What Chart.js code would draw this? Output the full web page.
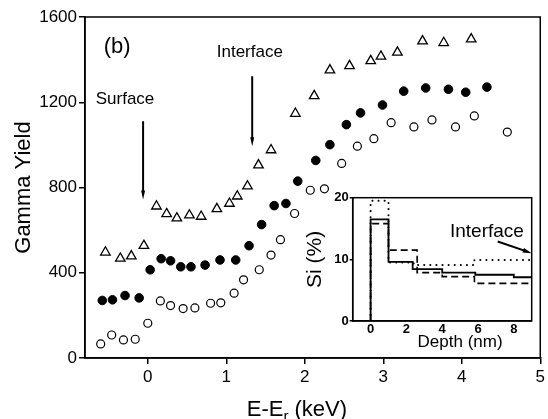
<!DOCTYPE html>
<html>
<head>
<meta charset="utf-8">
<script src="https://cdn.jsdelivr.net/npm/chart.js@4.4.1/dist/chart.umd.min.js"></script>
<style>
  body { margin: 0; background: #fff; }
  #wrap { position: relative; width: 548px; height: 419px; }
  #chartMain { position: absolute; left: 0; top: 0; }
  #chartInset { position: absolute; left: 300px; top: 180px; }
</style>
</head>
<body>
<div id="wrap">
  <canvas id="chartMain" width="548" height="419"></canvas>
  <canvas id="chartInset" width="246" height="180"></canvas>
</div>
<script>
const FONT = "'Liberation Sans', Arial, Helvetica, sans-serif";
Chart.defaults.font.family = FONT;
Chart.defaults.color = "#000";

// main panel: gamma yield vs E-Er (keV)
const openE = [-0.60, -0.46, -0.31, -0.16, 0.00, 0.16, 0.29, 0.45, 0.60, 0.80, 0.93, 1.10, 1.22, 1.42,
  1.57, 1.69, 1.87, 2.07, 2.25, 2.47, 2.67, 2.88, 3.10, 3.39, 3.62, 3.92, 4.16, 4.58];
const openY = [66, 108, 85, 88, 163, 268, 246, 232, 235, 257, 259, 304, 367, 414,
  483, 555, 678, 787, 794, 913, 994, 1029, 1104, 1084, 1117, 1084, 1136, 1060];

const filledE = [-0.58, -0.45, -0.29, -0.11, 0.03, 0.17, 0.29, 0.42, 0.55, 0.73, 0.92, 1.12, 1.29, 1.45,
  1.61, 1.76, 1.91, 2.14, 2.32, 2.53, 2.71, 2.99, 3.26, 3.54, 3.83, 4.05, 4.32];
const filledY = [270, 273, 293, 282, 414, 466, 456, 428, 428, 436, 460, 460, 527, 626,
  715, 725, 830, 927, 1001, 1095, 1150, 1187, 1252, 1267, 1261, 1247, 1271];

const triE = [-0.54, -0.35, -0.21, -0.05, 0.11, 0.24, 0.37, 0.53, 0.68, 0.88, 1.04, 1.14, 1.27,
  1.41, 1.57, 1.88, 2.12, 2.32, 2.57, 2.84, 2.97, 3.18, 3.50, 3.77, 4.12];
const triY = [496, 467, 478, 527, 712, 676, 656, 670, 664, 700, 725, 759, 806,
  905, 976, 1147, 1230, 1351, 1371, 1394, 1415, 1434, 1487, 1479, 1496];

const xTicks = [0, 1, 2, 3, 4, 5];
const yTicks = [0, 400, 800, 1200, 1600];

// inset: Si depth profiles, stored as step edges
const depthTicks = [0, 2, 4, 6, 8];
const siTicks = [0, 10, 20];
const solidDepth = [0, 0, 1, 2.35, 4, 5.85, 8, 9];
const solidSi = [0, 16.5, 9.6, 8.4, 7.85, 7.5, 7.1, 7.1];
const dashDepth = [0, 0, 1, 2.6, 4, 5.8, 9];
const dashSi = [0, 15.8, 11.5, 7.85, 7.2, 6.1, 6.1];
const dotDepth = [0, 0, 1, 2.4, 5.8, 9];
const dotSi = [0, 19.5, 9.5, 9.1, 9.9, 9.9];

function pts(xs, ys) {
  return xs.map((x, i) => ({ x: x, y: ys[i] }));
}

function arrow(ctx, x1, y1, x2, y2, len, half) {
  const a = Math.atan2(y2 - y1, x2 - x1);
  const c = Math.cos(a), s = Math.sin(a);
  ctx.beginPath();
  ctx.moveTo(x1, y1);
  ctx.lineTo(x2 - c * len * 0.6, y2 - s * len * 0.6);
  ctx.stroke();
  ctx.beginPath();
  ctx.moveTo(x2, y2);
  ctx.lineTo(x2 - len * c + half * s, y2 - len * s - half * c);
  ctx.lineTo(x2 - len * c - half * s, y2 - len * s + half * c);
  ctx.closePath();
  ctx.fill();
}

const mainDecor = {
  id: "mainDecor",
  afterDraw(chart) {
    const { ctx, chartArea: a, scales: { x, y } } = chart;
    ctx.save();
    ctx.strokeStyle = "#000";
    ctx.fillStyle = "#000";
    ctx.lineWidth = 1.5;
    ctx.strokeRect(a.left, a.top, a.right - a.left, a.bottom - a.top);

    ctx.textAlign = "center";
    ctx.textBaseline = "middle";
    ctx.font = "22px " + FONT;
    ctx.fillText("(b)", x.getPixelForValue(-0.39), y.getPixelForValue(1459));
    ctx.font = "17px " + FONT;
    ctx.fillText("Interface", x.getPixelForValue(1.3), y.getPixelForValue(1435));
    ctx.fillText("Surface", x.getPixelForValue(-0.29), y.getPixelForValue(1214));

    ctx.lineWidth = 2;
    arrow(ctx, x.getPixelForValue(1.33), y.getPixelForValue(1322),
      x.getPixelForValue(1.33), y.getPixelForValue(993), 9, 2);
    arrow(ctx, x.getPixelForValue(-0.06), y.getPixelForValue(1111),
      x.getPixelForValue(-0.06), y.getPixelForValue(744), 9, 2);

    // x title with subscript r
    ctx.textAlign = "left";
    ctx.textBaseline = "alphabetic";
    const base = 416;
    ctx.font = "22px " + FONT;
    const w1 = ctx.measureText("E-E").width;
    const w3 = ctx.measureText(" (keV)").width;
    ctx.font = "15px " + FONT;
    const w2 = ctx.measureText("r").width;
    let tx = x.getPixelForValue(1.9) - (w1 + w2 + w3) / 2;
    ctx.font = "22px " + FONT;
    ctx.fillText("E-E", tx, base);
    tx += w1;
    ctx.font = "15px " + FONT;
    ctx.fillText("r", tx, base + 5);
    tx += w2;
    ctx.font = "22px " + FONT;
    ctx.fillText(" (keV)", tx, base);
    ctx.restore();
  }
};

const chartMain = new Chart(document.getElementById("chartMain"), {
  type: "scatter",
  data: {
    datasets: [
      {
        label: "open",
        data: pts(openE, openY),
        pointStyle: "circle",
        pointRadius: 4,
        backgroundColor: "#fff",
        borderColor: "#000",
        borderWidth: 1.2
      },
      {
        label: "filled",
        data: pts(filledE, filledY),
        pointStyle: "circle",
        pointRadius: 4.3,
        backgroundColor: "#000",
        borderColor: "#000",
        borderWidth: 1
      },
      {
        label: "triangles",
        data: pts(triE, triY),
        pointStyle: "triangle",
        pointRadius: 5.5,
        backgroundColor: "#fff",
        borderColor: "#000",
        borderWidth: 1.3
      }
    ]
  },
  options: {
    responsive: false,
    animation: false,
    events: [],
    layout: { padding: { top: 17, right: 7, left: 0, bottom: 0 } },
    plugins: { legend: { display: false }, tooltip: { enabled: false } },
    scales: {
      x: {
        type: "linear",
        min: -0.8,
        max: 5,
        afterBuildTicks: (s) => { s.ticks = xTicks.map((v) => ({ value: v })); },
        afterFit: (s) => { s.height = 61; },
        grid: { drawOnChartArea: false, tickLength: 6, color: "#000", lineWidth: 1.5 },
        border: { color: "#000", width: 1.5 },
        ticks: { font: { size: 17 }, padding: 3, maxRotation: 0, color: "#000", callback: (v) => String(v) }
      },
      y: {
        min: 0,
        max: 1600,
        afterBuildTicks: (s) => { s.ticks = yTicks.map((v) => ({ value: v })); },
        afterFit: (s) => { s.width = 85; },
        grid: { drawOnChartArea: false, tickLength: 6, color: "#000", lineWidth: 1.5 },
        border: { color: "#000", width: 1.5 },
        ticks: { font: { size: 17 }, padding: 2, color: "#000", callback: (v) => String(v) },
        title: { display: true, text: "Gamma Yield", font: { size: 22 }, padding: { top: 11, bottom: 0 }, color: "#000" }
      }
    }
  },
  plugins: [mainDecor]
});

const insetDecor = {
  id: "insetDecor",
  beforeDraw(chart) {
    const { ctx, chartArea: a } = chart;
    ctx.save();
    ctx.fillStyle = "#fff";
    ctx.fillRect(a.left, a.top, a.right - a.left, a.bottom - a.top);
    ctx.restore();
  },
  afterDraw(chart) {
    const { ctx, chartArea: a, scales: { x, y } } = chart;
    ctx.save();
    ctx.strokeStyle = "#000";
    ctx.fillStyle = "#000";
    ctx.lineWidth = 1.5;
    ctx.strokeRect(a.left, a.top, a.right - a.left, a.bottom - a.top);
    ctx.textAlign = "center";
    ctx.textBaseline = "middle";
    ctx.font = "19px " + FONT;
    ctx.fillText("Interface", x.getPixelForValue(6.5), y.getPixelForValue(14.5));
    ctx.lineWidth = 2;
    arrow(ctx, x.getPixelForValue(7.1), y.getPixelForValue(12.9),
      x.getPixelForValue(9.0), y.getPixelForValue(11.0), 9, 2.5);
    ctx.font = "17px " + FONT;
    ctx.fillText("Depth (nm)", x.getPixelForValue(5), a.bottom + 21);
    ctx.restore();
  }
};

const chartInset = new Chart(document.getElementById("chartInset"), {
  type: "line",
  data: {
    datasets: [
      {
        label: "solid",
        data: pts(solidDepth, solidSi),
        stepped: true,
        borderColor: "#000",
        borderWidth: 1.8,
        pointRadius: 0,
        fill: false
      },
      {
        label: "dashed",
        data: pts(dashDepth, dashSi),
        stepped: true,
        borderColor: "#000",
        borderWidth: 1.6,
        borderDash: [7, 4],
        pointRadius: 0,
        fill: false
      },
      {
        label: "dotted",
        data: pts(dotDepth, dotSi),
        stepped: true,
        borderColor: "#000",
        borderWidth: 2,
        borderDash: [0.1, 6],
        borderCapStyle: "round",
        pointRadius: 0,
        fill: false
      }
    ]
  },
  options: {
    responsive: false,
    animation: false,
    events: [],
    layout: { padding: { top: 17.7, right: 14.3, left: 0, bottom: 0 } },
    plugins: { legend: { display: false }, tooltip: { enabled: false } },
    scales: {
      x: {
        type: "linear",
        min: -1,
        max: 9,
        afterBuildTicks: (s) => { s.ticks = depthTicks.map((v) => ({ value: v })); },
        afterFit: (s) => { s.height = 39; },
        grid: { drawOnChartArea: false, drawTicks: false },
        border: { color: "#000", width: 1.5 },
        ticks: { font: { size: 13, weight: "bold" }, padding: 1, maxRotation: 0, color: "#000" }
      },
      y: {
        type: "linear",
        min: 0,
        max: 20,
        afterBuildTicks: (s) => { s.ticks = siTicks.map((v) => ({ value: v })); },
        afterFit: (s) => { s.width = 52.7; },
        grid: { drawOnChartArea: false, tickLength: 3, color: "#000", lineWidth: 1.5 },
        border: { color: "#000", width: 1.5 },
        ticks: { font: { size: 13, weight: "bold" }, padding: 1, color: "#000" },
        title: { display: true, text: "Si (%)", font: { size: 21 }, padding: { top: 3, bottom: 0 }, color: "#000" }
      }
    }
  },
  plugins: [insetDecor]
});
</script>
</body>
</html>
